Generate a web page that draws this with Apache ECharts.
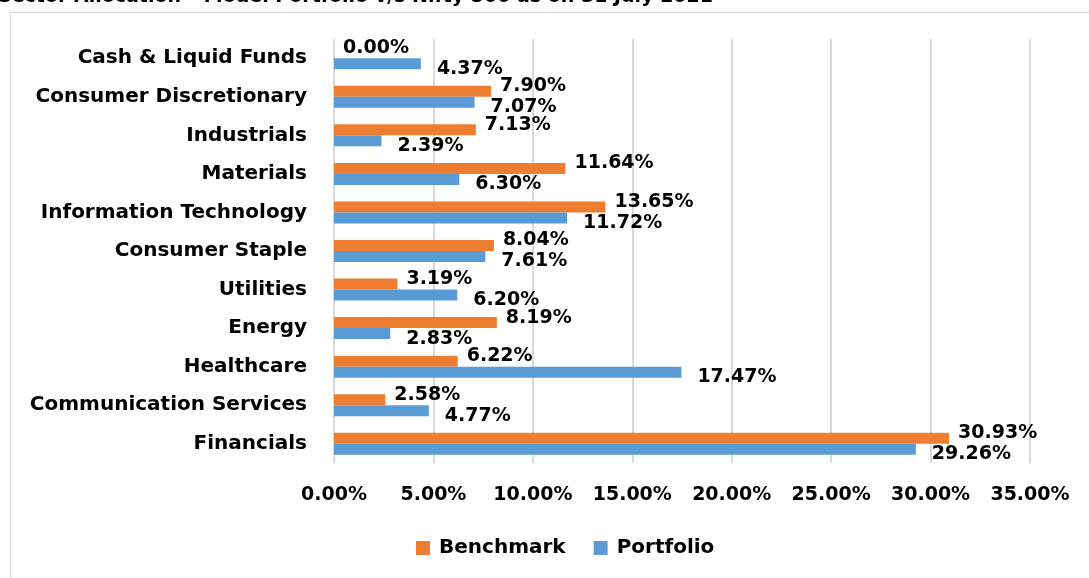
<!DOCTYPE html>
<html><head><meta charset="utf-8">
<script src="https://cdn.jsdelivr.net/npm/echarts@6/dist/echarts.min.js"></script>
<style>html,body{margin:0;padding:0;background:#fff}#c{width:1089px;height:578px}</style>
</head><body><div id="c"></div>
<script>
const categories = ["Cash & Liquid Funds","Consumer Discretionary","Industrials","Materials","Information Technology","Consumer Staple","Utilities","Energy","Healthcare","Communication Services","Financials"];
const benchmark = [0.00, 7.90, 7.13, 11.64, 13.65, 8.04, 3.19, 8.19, 6.22, 2.58, 30.93];
const portfolio = [4.37, 7.07, 2.39, 6.30, 11.72, 7.61, 6.20, 2.83, 17.47, 4.77, 29.26];
const titleText = "Sector Allocation \u2013 Model Portfolio v/s Nifty 500 as on 31 July 2021";
const FONT = "DejaVu Sans";
const chart = echarts.init(document.getElementById('c'));
chart.setOption({
  animation: false,
  textStyle: {fontFamily: FONT},
  graphic: [
    {type:'rect', shape:{x:10.5,y:12.5,width:1200,height:700}, style:{fill:'none',stroke:'#d9d9d9',lineWidth:1}},
    {type:'text', left:-2, top:-12, style:{text:titleText, font:'bold 19px '+FONT, fill:'#000'}}
  ],
  legend: {
    bottom: 15, left: 411, itemWidth: 14, itemHeight: 14, itemGap: 28, icon:'rect',
    textStyle: {fontSize: 20, fontWeight: 'bold', color: '#000', fontFamily: FONT, padding: [0,0,0,4]},
    data: ['Benchmark','Portfolio']
  },
  grid: {left: 334, right: 59, top: 39, bottom: 115, containLabel: false},
  xAxis: {
    type: 'value', min: 0, max: 35, interval: 5,
    axisLine: {show:false}, axisTick: {show:false},
    splitLine: {lineStyle: {color: '#d9d9d9', width: 2}},
    axisLabel: {formatter: v => v.toFixed(2) + '%', fontSize: 19, fontWeight: 'bold', color: '#000', margin: 23}
  },
  yAxis: {
    type: 'category', data: categories, inverse: true,
    axisLine: {show:false}, axisTick: {show:false},
    axisLabel: {fontSize: 20, fontWeight: 'bold', color: '#000', margin: 27}
  },
  series: [
    {name:'Benchmark', type:'bar', data: benchmark, barWidth: 11, barGap: '0%',
     itemStyle:{color:'#ED7D31'},
     label:{show:true, position:'right', distance: 9, offset:[0,-5], formatter: p => p.value.toFixed(2)+'%',
            fontSize: 19, fontWeight:'bold', color:'#000', fontFamily: FONT}},
    {name:'Portfolio', type:'bar', data: portfolio, barWidth: 11, barGap: '0%',
     itemStyle:{color:'#5B9BD5'},
     label:{show:true, position:'right', distance: 16, offset:[0,5], formatter: p => p.value.toFixed(2)+'%',
            fontSize: 19, fontWeight:'bold', color:'#000', fontFamily: FONT}}
  ]
});
</script></body></html>
